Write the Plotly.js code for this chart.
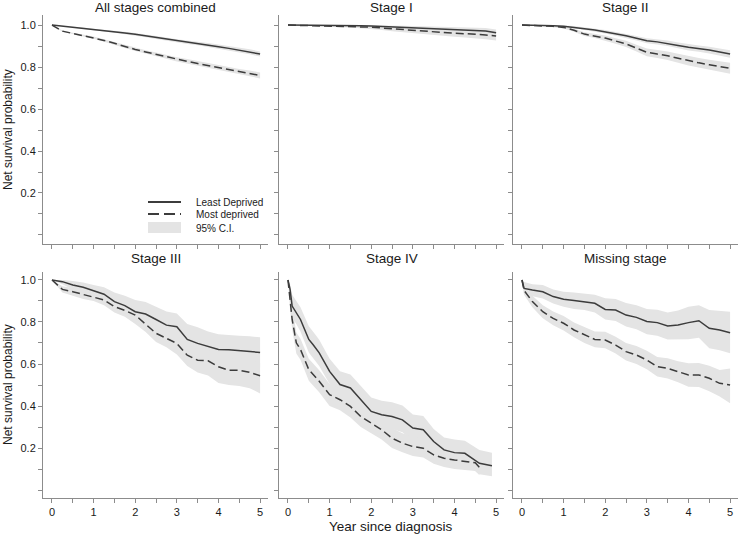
<!DOCTYPE html>
<html>
<head>
<meta charset="utf-8">
<script src="https://cdn.plot.ly/plotly-3.0.1.min.js"></script>
<style>html,body{margin:0;padding:0;background:#fff}#chart{width:738px;height:536px}</style>
</head>
<body>
<div id="chart"></div>
<script>
// ---------- DATA ----------
const panelTitles = ["All stages combined", "Stage I", "Stage II", "Stage III", "Stage IV", "Missing stage"];
const seriesNames = ["Least Deprived", "Most deprived", "95% C.I."];
const yTickVals = [0, 0.1, 0.2, 0.3, 0.4, 0.5, 0.6, 0.7, 0.8, 0.9, 1.0];
const yTickText = ["", "", "0.2", "", "0.4", "", "0.6", "", "0.8", "", "1.0"];
const xTickVals = [0, 0.5, 1, 1.5, 2, 2.5, 3, 3.5, 4, 4.5, 5];
const xTickText = ["0", "", "1", "", "2", "", "3", "", "4", "", "5"];
const yTitle = "Net survival probability";
const xTitle = "Year since diagnosis";

const tQuarter = [0, 0.25, 0.5, 0.75, 1, 1.25, 1.5, 1.75, 2, 2.25, 2.5, 2.75, 3, 3.25, 3.5, 3.75, 4, 4.25, 4.5, 4.75, 5];

// All stages combined
const allLeast   = [1.0, 0.995, 0.989, 0.984, 0.979, 0.974, 0.968, 0.962, 0.956, 0.949, 0.941, 0.933, 0.925, 0.919, 0.913, 0.905, 0.897, 0.889, 0.881, 0.873, 0.862];
const allLeastLo = [1.0, 0.993, 0.986, 0.980, 0.975, 0.969, 0.963, 0.956, 0.950, 0.942, 0.934, 0.925, 0.917, 0.910, 0.904, 0.895, 0.887, 0.878, 0.870, 0.861, 0.850];
const allLeastHi = [1.0, 0.997, 0.992, 0.988, 0.983, 0.979, 0.973, 0.968, 0.962, 0.956, 0.948, 0.941, 0.933, 0.928, 0.922, 0.915, 0.907, 0.900, 0.892, 0.885, 0.874];
const allMost    = [1.0, 0.971, 0.960, 0.950, 0.940, 0.927, 0.913, 0.898, 0.884, 0.872, 0.860, 0.848, 0.837, 0.827, 0.817, 0.807, 0.797, 0.788, 0.778, 0.770, 0.760];
const allMostLo  = [1.0, 0.968, 0.956, 0.945, 0.935, 0.921, 0.907, 0.891, 0.877, 0.864, 0.851, 0.839, 0.827, 0.816, 0.806, 0.795, 0.785, 0.775, 0.765, 0.756, 0.746];
const allMostHi  = [1.0, 0.974, 0.964, 0.955, 0.945, 0.933, 0.919, 0.905, 0.891, 0.880, 0.869, 0.857, 0.847, 0.838, 0.828, 0.819, 0.809, 0.801, 0.791, 0.784, 0.774];

// Stage I
const s1Least   = [1.0, 1.0, 1.0, 0.999, 0.999, 0.998, 0.998, 0.997, 0.996, 0.994, 0.992, 0.991, 0.989, 0.987, 0.985, 0.983, 0.981, 0.979, 0.976, 0.972, 0.963];
const s1LeastLo = [1.0, 0.999, 0.998, 0.997, 0.996, 0.995, 0.994, 0.992, 0.991, 0.988, 0.985, 0.983, 0.980, 0.977, 0.974, 0.971, 0.968, 0.965, 0.961, 0.956, 0.946];
const s1LeastHi = [1.0, 1.0, 1.0, 1.0, 1.0, 1.0, 1.0, 1.0, 1.0, 0.999, 0.998, 0.997, 0.996, 0.995, 0.994, 0.993, 0.992, 0.991, 0.989, 0.986, 0.979];
const s1Most    = [1.0, 0.999, 0.998, 0.998, 0.997, 0.996, 0.995, 0.993, 0.990, 0.986, 0.982, 0.978, 0.974, 0.970, 0.967, 0.964, 0.961, 0.959, 0.957, 0.953, 0.948];
const s1MostLo  = [1.0, 0.997, 0.995, 0.994, 0.992, 0.990, 0.988, 0.985, 0.981, 0.976, 0.971, 0.966, 0.961, 0.956, 0.952, 0.948, 0.944, 0.941, 0.938, 0.933, 0.927];
const s1MostHi  = [1.0, 1.0, 1.0, 1.0, 1.0, 1.0, 1.0, 0.999, 0.997, 0.995, 0.992, 0.989, 0.986, 0.983, 0.981, 0.979, 0.977, 0.976, 0.975, 0.972, 0.968];

// Stage II
const s2Least   = [1.0, 1.0, 0.998, 0.997, 0.994, 0.990, 0.983, 0.976, 0.968, 0.958, 0.949, 0.937, 0.925, 0.920, 0.913, 0.903, 0.894, 0.888, 0.881, 0.872, 0.862];
const s2LeastLo = [1.0, 0.999, 0.996, 0.994, 0.990, 0.985, 0.977, 0.969, 0.960, 0.949, 0.939, 0.926, 0.913, 0.907, 0.900, 0.889, 0.879, 0.873, 0.865, 0.855, 0.844];
const s2LeastHi = [1.0, 1.0, 1.0, 1.0, 0.998, 0.995, 0.989, 0.983, 0.976, 0.967, 0.959, 0.948, 0.937, 0.933, 0.926, 0.917, 0.909, 0.903, 0.897, 0.889, 0.880];
const s2Most    = [1.0, 0.999, 0.997, 0.994, 0.989, 0.975, 0.957, 0.948, 0.938, 0.924, 0.910, 0.890, 0.870, 0.862, 0.854, 0.842, 0.830, 0.820, 0.811, 0.803, 0.794];
const s2MostLo  = [1.0, 0.998, 0.995, 0.990, 0.984, 0.968, 0.948, 0.938, 0.926, 0.911, 0.895, 0.874, 0.852, 0.843, 0.834, 0.821, 0.808, 0.797, 0.787, 0.778, 0.768];
const s2MostHi  = [1.0, 1.0, 0.999, 0.998, 0.994, 0.982, 0.966, 0.958, 0.950, 0.937, 0.925, 0.906, 0.888, 0.881, 0.874, 0.863, 0.852, 0.843, 0.835, 0.828, 0.820];

// Stage III
const s3Least   = [1.0, 0.992, 0.976, 0.965, 0.949, 0.932, 0.897, 0.878, 0.849, 0.838, 0.812, 0.785, 0.777, 0.717, 0.698, 0.682, 0.669, 0.668, 0.663, 0.660, 0.655];
const s3LeastLo = [1.0, 0.980, 0.955, 0.940, 0.920, 0.898, 0.855, 0.831, 0.795, 0.780, 0.752, 0.720, 0.712, 0.645, 0.622, 0.607, 0.595, 0.595, 0.590, 0.588, 0.583];
const s3LeastHi = [1.0, 1.0, 0.995, 0.988, 0.976, 0.965, 0.940, 0.925, 0.905, 0.895, 0.872, 0.850, 0.840, 0.790, 0.775, 0.755, 0.742, 0.740, 0.735, 0.732, 0.727];
const s3Most    = [1.0, 0.955, 0.944, 0.932, 0.920, 0.905, 0.873, 0.855, 0.833, 0.790, 0.746, 0.722, 0.698, 0.642, 0.618, 0.615, 0.587, 0.570, 0.570, 0.560, 0.544];
const s3MostLo  = [1.0, 0.940, 0.925, 0.910, 0.900, 0.880, 0.845, 0.825, 0.790, 0.752, 0.705, 0.680, 0.645, 0.590, 0.560, 0.545, 0.510, 0.500, 0.495, 0.485, 0.460];
const s3MostHi  = [1.0, 0.970, 0.962, 0.953, 0.942, 0.930, 0.902, 0.885, 0.865, 0.825, 0.784, 0.762, 0.740, 0.690, 0.667, 0.665, 0.640, 0.625, 0.627, 0.618, 0.605];

// Stage IV
const s4TimeLeast = [0, 0.05, 0.1, 0.2, 0.3, 0.4, 0.5, 0.6, 0.75, 1, 1.25, 1.5, 1.75, 2, 2.25, 2.5, 2.75, 3, 3.25, 3.5, 3.75, 4, 4.25, 4.5, 4.6, 4.9];
const s4Least   = [1.0, 0.955, 0.876, 0.844, 0.812, 0.764, 0.717, 0.693, 0.653, 0.565, 0.502, 0.486, 0.430, 0.374, 0.358, 0.350, 0.334, 0.295, 0.287, 0.231, 0.191, 0.178, 0.175, 0.143, 0.127, 0.115];
const s4LeastLo = [1.0, 0.930, 0.820, 0.790, 0.755, 0.705, 0.655, 0.630, 0.590, 0.505, 0.440, 0.425, 0.370, 0.315, 0.300, 0.290, 0.275, 0.235, 0.225, 0.175, 0.140, 0.125, 0.120, 0.090, 0.075, 0.065];
const s4LeastHi = [1.0, 0.980, 0.930, 0.900, 0.870, 0.825, 0.780, 0.755, 0.715, 0.625, 0.565, 0.550, 0.495, 0.440, 0.425, 0.418, 0.402, 0.360, 0.352, 0.290, 0.250, 0.240, 0.235, 0.205, 0.190, 0.178];
const s4TimeMost = [0, 0.05, 0.1, 0.2, 0.3, 0.4, 0.5, 0.75, 1, 1.25, 1.5, 1.75, 2, 2.25, 2.5, 2.75, 3, 3.25, 3.5, 3.75, 4, 4.25, 4.5, 4.6];
const s4Most    = [1.0, 0.900, 0.812, 0.701, 0.669, 0.621, 0.573, 0.518, 0.454, 0.430, 0.398, 0.350, 0.318, 0.287, 0.247, 0.223, 0.207, 0.199, 0.167, 0.151, 0.143, 0.135, 0.130, 0.108];
const s4MostLo  = [1.0, 0.860, 0.765, 0.650, 0.620, 0.570, 0.520, 0.465, 0.400, 0.380, 0.345, 0.300, 0.270, 0.240, 0.200, 0.180, 0.162, 0.155, 0.125, 0.110, 0.100, 0.095, 0.090, 0.070];
const s4MostHi  = [1.0, 0.940, 0.860, 0.750, 0.720, 0.670, 0.625, 0.570, 0.505, 0.480, 0.450, 0.400, 0.365, 0.335, 0.295, 0.270, 0.255, 0.245, 0.210, 0.195, 0.185, 0.175, 0.170, 0.148];

// Missing stage
const msTime = [0, 0.05, 0.25, 0.5, 0.75, 1, 1.25, 1.5, 1.75, 2, 2.25, 2.5, 2.75, 3, 3.25, 3.5, 3.75, 4, 4.25, 4.5, 4.75, 5];
const msLeast   = [1.0, 0.960, 0.952, 0.944, 0.921, 0.908, 0.902, 0.897, 0.889, 0.860, 0.857, 0.833, 0.822, 0.802, 0.797, 0.781, 0.786, 0.797, 0.806, 0.770, 0.762, 0.749];
const msLeastLo = [1.0, 0.930, 0.922, 0.912, 0.888, 0.872, 0.862, 0.857, 0.845, 0.812, 0.805, 0.778, 0.765, 0.742, 0.735, 0.717, 0.718, 0.718, 0.725, 0.675, 0.665, 0.651];
const msLeastHi = [1.0, 0.990, 0.980, 0.976, 0.955, 0.944, 0.940, 0.935, 0.930, 0.913, 0.910, 0.890, 0.880, 0.862, 0.858, 0.845, 0.855, 0.873, 0.880, 0.857, 0.852, 0.849];
const msMost    = [1.0, 0.950, 0.897, 0.849, 0.817, 0.794, 0.762, 0.738, 0.717, 0.714, 0.690, 0.659, 0.643, 0.619, 0.587, 0.579, 0.563, 0.548, 0.548, 0.532, 0.508, 0.500];
const msMostLo  = [1.0, 0.930, 0.870, 0.818, 0.785, 0.760, 0.727, 0.700, 0.680, 0.675, 0.650, 0.617, 0.600, 0.575, 0.540, 0.531, 0.513, 0.492, 0.490, 0.470, 0.445, 0.413];
const msMostHi  = [1.0, 0.970, 0.925, 0.880, 0.850, 0.828, 0.797, 0.775, 0.755, 0.753, 0.730, 0.700, 0.686, 0.663, 0.633, 0.627, 0.613, 0.603, 0.605, 0.592, 0.572, 0.579];

// ---------- BUILD ----------
const panels = [
  {tL: tQuarter, l: allLeast, lLo: allLeastLo, lHi: allLeastHi, tM: tQuarter, m: allMost, mLo: allMostLo, mHi: allMostHi},
  {tL: tQuarter, l: s1Least, lLo: s1LeastLo, lHi: s1LeastHi, tM: tQuarter, m: s1Most, mLo: s1MostLo, mHi: s1MostHi},
  {tL: tQuarter, l: s2Least, lLo: s2LeastLo, lHi: s2LeastHi, tM: tQuarter, m: s2Most, mLo: s2MostLo, mHi: s2MostHi},
  {tL: tQuarter, l: s3Least, lLo: s3LeastLo, lHi: s3LeastHi, tM: tQuarter, m: s3Most, mLo: s3MostLo, mHi: s3MostHi},
  {tL: s4TimeLeast, l: s4Least, lLo: s4LeastLo, lHi: s4LeastHi, tM: s4TimeMost, m: s4Most, mLo: s4MostLo, mHi: s4MostHi},
  {tL: msTime, l: msLeast, lLo: msLeastLo, lHi: msLeastHi, tM: msTime, m: msMost, mLo: msMostLo, mHi: msMostHi}
];

const W = 738, H = 536;
const colPx = [[43, 268], [279, 504], [513, 738]];
const rowPx = [[15, 244], [272, 498]];
const rowRange = [[-0.043, 1.048], [-0.038, 1.038]];
const bandColor = "#e4e4e4";
const lineColor = "#3c3c3c";
const axisColor = "#8c8c8c";
const dashPattern = "8px,4px";

const ciTraces = [], lineTraces = [];
const layout = {
  width: W, height: H,
  margin: {l: 0, r: 0, t: 0, b: 0},
  paper_bgcolor: "#fff", plot_bgcolor: "#fff",
  font: {family: "Liberation Sans, Arial, sans-serif", color: "#1a1a1a"},
  showlegend: false,
  annotations: [], shapes: []
};

panels.forEach((p, i) => {
  const r = Math.floor(i / 3), c = i % 3;
  const xa = "x" + (i + 1), ya = "y" + (i + 1);
  const xk = "xaxis" + (i + 1), yk = "yaxis" + (i + 1);
  const band = (t, lo, hi) => ({
    x: t.concat(t.slice().reverse()),
    y: hi.concat(lo.slice().reverse()),
    xaxis: xa, yaxis: ya, type: "scatter", mode: "lines",
    fill: "toself", fillcolor: bandColor, line: {width: 0, color: bandColor},
    name: seriesNames[2], hoverinfo: "skip"
  });
  ciTraces.push(band(p.tL, p.lLo, p.lHi));
  ciTraces.push(band(p.tM, p.mLo, p.mHi));
  lineTraces.push({x: p.tL, y: p.l, xaxis: xa, yaxis: ya, type: "scatter", mode: "lines",
    line: {color: lineColor, width: 1.5}, name: seriesNames[0]});
  lineTraces.push({x: p.tM, y: p.m, xaxis: xa, yaxis: ya, type: "scatter", mode: "lines",
    line: {color: lineColor, width: 1.5, dash: dashPattern}, name: seriesNames[1]});

  layout[xk] = {
    domain: [colPx[c][0] / W, colPx[c][1] / W],
    range: [-0.216, 5.19], anchor: ya,
    tickmode: "array", tickvals: xTickVals, ticktext: xTickText,
    showticklabels: r === 1, ticks: "outside", ticklen: 4, tickcolor: axisColor,
    showline: true, linecolor: axisColor, linewidth: 1,
    showgrid: false, zeroline: false, tickfont: {size: 11}
  };
  layout[yk] = {
    domain: [1 - rowPx[r][1] / H, 1 - rowPx[r][0] / H],
    range: rowRange[r], anchor: xa,
    tickmode: "array", tickvals: yTickVals, ticktext: yTickText,
    showticklabels: c === 0, ticks: "outside", ticklen: 4, tickcolor: axisColor,
    showline: true, linecolor: axisColor, linewidth: 1,
    showgrid: false, zeroline: false, tickfont: {size: 11}
  };
  layout.annotations.push({
    text: panelTitles[i], xref: "paper", yref: "paper",
    x: (colPx[c][0] + colPx[c][1]) / 2 / W, y: 1 - (r === 0 ? 7 : 259) / H,
    xanchor: "center", yanchor: "middle", showarrow: false, font: {size: 13.5}
  });
  if (c === 0) {
    layout.annotations.push({
      text: yTitle, xref: "paper", yref: "paper", textangle: -90,
      x: 8 / W, y: 1 - (r === 0 ? 130 : 385) / H,
      xanchor: "center", yanchor: "middle", showarrow: false, font: {size: 12}
    });
  }
});
layout.annotations.push({
  text: xTitle, xref: "paper", yref: "paper", x: 391 / W, y: 1 - 526 / H,
  xanchor: "center", yanchor: "middle", showarrow: false, font: {size: 13.5}
});

// Legend (drawn in paper space inside the first panel)
const legKeyX0 = 148 / W, legKeyX1 = 181 / W, legTextX = 194 / W;
const legRowsY = [202, 214, 228].map(v => 1 - v / H);
layout.shapes.push({type: "line", xref: "paper", yref: "paper", x0: legKeyX0, x1: legKeyX1,
  y0: legRowsY[0], y1: legRowsY[0], line: {color: lineColor, width: 1.8}});
layout.shapes.push({type: "line", xref: "paper", yref: "paper", x0: legKeyX0, x1: legKeyX1,
  y0: legRowsY[1], y1: legRowsY[1], line: {color: lineColor, width: 1.8, dash: "11px,5px"}});
layout.shapes.push({type: "rect", xref: "paper", yref: "paper", x0: legKeyX0, x1: legKeyX1,
  y0: 1 - 233 / H, y1: 1 - 222 / H, fillcolor: bandColor, line: {width: 0}});
seriesNames.forEach((nm, k) => {
  layout.annotations.push({text: nm, xref: "paper", yref: "paper", x: legTextX, y: legRowsY[k],
    xanchor: "left", yanchor: "middle", showarrow: false, font: {size: 10}});
});

Plotly.newPlot("chart", ciTraces.concat(lineTraces), layout, {staticPlot: true, displayModeBar: false});
</script>
</body>
</html>
